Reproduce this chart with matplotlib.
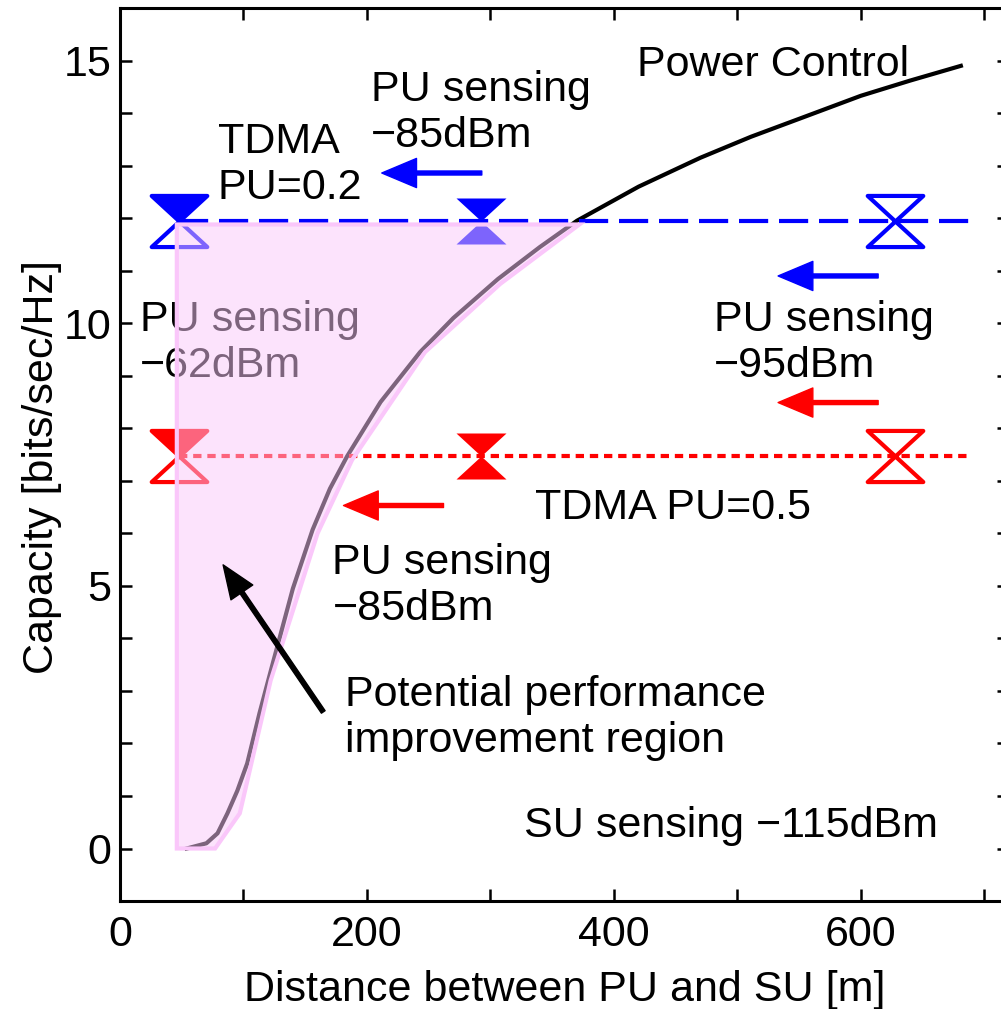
import matplotlib
matplotlib.use("Agg")
import matplotlib.pyplot as plt
from matplotlib.path import Path
from matplotlib.patches import Polygon

plt.rcParams['font.family'] = ['Liberation Sans', 'DejaVu Sans']

# Power control curve
dist_pc = [54, 70, 79, 87, 95, 103, 113, 124, 140, 156, 170, 184, 211, 243, 270, 306, 340, 370,
           420, 470, 511, 551, 600, 640, 681]
cap_pc = [0, 0.1, 0.29, 0.67, 1.1, 1.62, 2.58, 3.55, 4.95, 6.07, 6.85, 7.47, 8.5, 9.45, 10.1,
          10.84, 11.45, 11.95, 12.6, 13.15, 13.55, 13.9, 14.33, 14.62, 14.9]

# TDMA levels
tdma_x = [48, 690]
tdma_02 = 11.95
tdma_05 = 7.47
marker_x = [48, 292, 628]

# potential improvement region outline
region_x = [46, 77, 97, 122, 160, 188, 247, 308, 372, 46]
region_y = [0, 0, 0.67, 3.2, 6.0, 7.4, 9.45, 10.75, 11.88, 11.88]

# arrows: (tail x, tip x, y, colour)
arrows = [(293, 212, 12.86, 'blue'), (614, 533, 10.9, 'blue'),
          (614, 533, 8.49, 'red'), (262, 181, 6.53, 'red')]

# hourglass halves
r = 0.92
top_tri = Path([(-1, r), (1, r), (0, 0), (-1, r)],
               [Path.MOVETO, Path.LINETO, Path.LINETO, Path.CLOSEPOLY])
bot_tri = Path([(0, 0), (-1, -r), (1, -r), (0, 0)],
               [Path.MOVETO, Path.LINETO, Path.LINETO, Path.CLOSEPOLY])
hourglass = Path.make_compound_path(top_tri, bot_tri)

fig = plt.figure(figsize=(10.01, 10.09), dpi=100)
ax = fig.add_axes([0.1199, 0.107, 0.8881, 0.885])

ax.plot(dist_pc, cap_pc, color='black', lw=3, zorder=2)

ax.plot(tdma_x, [tdma_02] * 2, color='blue', lw=3, dashes=(7, 2.6), zorder=2)
ax.plot(tdma_x, [tdma_05] * 2, color='red', lw=3, dashes=(2, 1.4), zorder=2)

ms_open = 40
for y, c in [(tdma_02, 'blue'), (tdma_05, 'red')]:
    # first point: filled top, open bottom
    ax.plot(marker_x[0], y, ls='none', marker=top_tri, ms=ms_open, mfc=c, mec=c, mew=3, zorder=3)
    ax.plot(marker_x[0], y, ls='none', marker=bot_tri, ms=ms_open, mfc='none', mec=c, mew=3, zorder=3)
    # middle point: fully filled
    ax.plot(marker_x[1], y, ls='none', marker=hourglass, ms=36, mfc=c, mec='none', zorder=3)
    # last point: open
    ax.plot(marker_x[2], y, ls='none', marker=hourglass, ms=ms_open, mfc='none', mec=c, mew=3, zorder=3)

for x0, x1, y, c in arrows:
    ax.annotate('', xy=(x1, y), xytext=(x0, y),
                arrowprops=dict(color=c, width=2.9, headwidth=21, headlength=25, shrink=0))

ax.annotate('', xy=(83.5, 5.4), xytext=(164.6, 2.6), zorder=7,
            arrowprops=dict(color='black', width=3.2, headwidth=19, headlength=24, shrink=0))

# y is the baseline of the last line of each label
fs = 31
ax.text(419, 14.71, 'Power Control', fontsize=fs, zorder=1)
ax.text(203, 13.36, 'PU sensing\n\u221285dBm', fontsize=fs, zorder=1)
ax.text(79, 12.37, 'TDMA\nPU=0.2', fontsize=fs, zorder=1)
ax.text(16, 8.97, 'PU sensing\n\u221262dBm', fontsize=fs, zorder=1)
ax.text(481, 8.97, 'PU sensing\n\u221295dBm', fontsize=fs, zorder=1)
ax.text(336, 6.28, 'TDMA PU=0.5', fontsize=fs, zorder=1)
ax.text(172, 4.35, 'PU sensing\n\u221285dBm', fontsize=fs, zorder=1)
ax.text(182, 1.83, 'Potential performance\nimprovement region', fontsize=fs, zorder=1)
ax.text(327, 0.21, 'SU sensing \u2212115dBm', fontsize=fs, zorder=1)

region = Polygon(list(zip(region_x, region_y)), closed=True,
                 facecolor=(0.98, 0.79, 0.98, 0.5), edgecolor=(0.98, 0.78, 0.98, 1.0),
                 lw=3, zorder=5)
ax.add_patch(region)

ax.set_xlim(0, 720)
ax.set_ylim(-1, 16)
ax.set_xticks([0, 200, 400, 600])
ax.set_xticks([100, 300, 500, 700], minor=True)
ax.set_yticks([0, 5, 10, 15])
ax.set_yticks([y for y in range(-1, 17) if y % 5 != 0], minor=True)
ax.tick_params(which='both', direction='in', length=8.5, width=1.8,
               top=True, right=True, labelsize=fs)
ax.tick_params(axis='x', pad=10)
ax.tick_params(axis='y', pad=6)
for s in ax.spines.values():
    s.set_linewidth(2.2)

ax.set_xlabel('Distance between PU and SU [m]', fontsize=fs, labelpad=11)
ax.set_ylabel('Capacity [bits/sec/Hz]', fontsize=fs)
ax.yaxis.set_label_coords(-0.065, 0.486)

fig.savefig('out.png', dpi=100)
